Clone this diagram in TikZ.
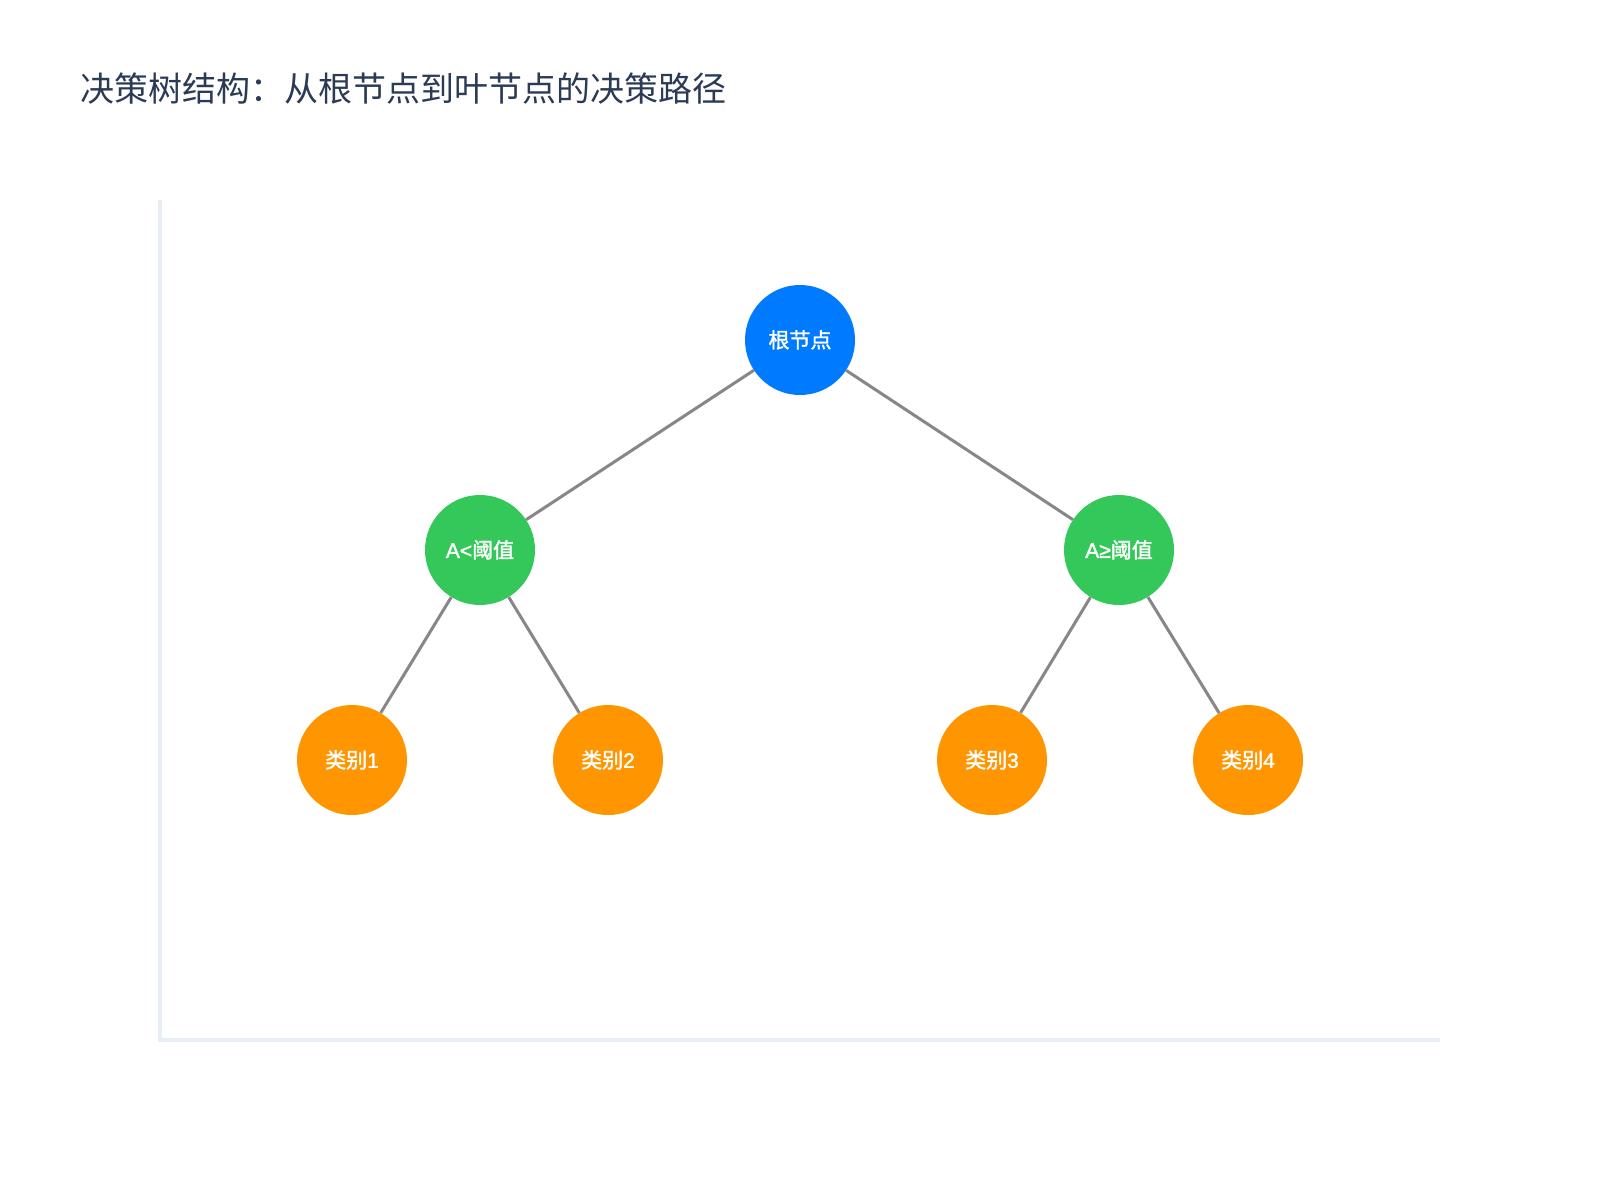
\documentclass[tikz,border=0pt]{standalone}
\usepackage{fontspec}
\setmainfont{Noto Sans CJK SC}
\newfontfamily\lblfont[FakeBold=1.6]{Noto Sans CJK SC}
\newfontfamily\latfont[FakeBold=1.6]{Liberation Sans}
\newcommand{\lat}[1]{{\latfont #1}}
\definecolor{titlec}{HTML}{2B3A55}
\definecolor{axisc}{HTML}{E8EEF6}
\definecolor{edgec}{HTML}{86868B}
\definecolor{rootc}{HTML}{007AFF}
\definecolor{midc}{HTML}{34C759}
\definecolor{leafc}{HTML}{FF9500}
\tikzset{
  tnode/.style={circle, minimum size=110pt, inner sep=0pt, text=white,
    font=\fontsize{21}{25}\lblfont},
  rootnode/.style={tnode, fill=rootc},
  midnode/.style={tnode, fill=midc},
  leafnode/.style={tnode, fill=leafc},
  edge/.style={draw=edgec, line width=3pt},
  axisline/.style={draw=axisc, line width=3.5pt}
}
\begin{document}
\begin{tikzpicture}[x=1pt,y=-1pt]
\useasboundingbox (0,0) rectangle (1600,1200);
\fill[white] (0,0) rectangle (1600,1200);
\node[anchor=west, text=titlec, font=\fontsize{34}{40}\selectfont, inner sep=0pt] (title) at (80,89) {决策树结构：从根节点到叶节点的决策路径};
\coordinate (axtop) at (160,200);
\coordinate (axorig) at (160,1040);
\coordinate (axright) at (1440,1040);
\draw[axisline] (axtop) -- (axorig) -- (axright);
\node[rootnode] (root) at (800,340) {\raisebox{2pt}{根节点}};
\node[midnode] (l) at (480,550) {\raisebox{2pt}{\lat{A<}阈值}};
\node[midnode] (r) at (1119,550) {\raisebox{2pt}{\lat{A≥}阈值}};
\node[leafnode] (c1) at (352,760) {\raisebox{2pt}{类别\lat{1}}};
\node[leafnode] (c2) at (608,760) {\raisebox{2pt}{类别\lat{2}}};
\node[leafnode] (c3) at (992,760) {\raisebox{2pt}{类别\lat{3}}};
\node[leafnode] (c4) at (1248,760) {\raisebox{2pt}{类别\lat{4}}};
\draw[edge] (root) -- (l);
\draw[edge] (root) -- (r);
\draw[edge] (l) -- (c1);
\draw[edge] (l) -- (c2);
\draw[edge] (r) -- (c3);
\draw[edge] (r) -- (c4);
\end{tikzpicture}
\end{document}
